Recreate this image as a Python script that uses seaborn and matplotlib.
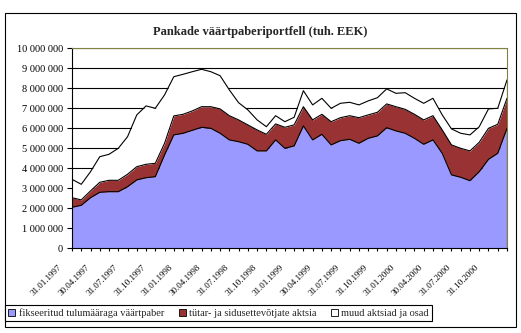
import numpy as np
import pandas as pd
import matplotlib
matplotlib.use("Agg")
import matplotlib.pyplot as plt
from matplotlib.patches import Patch, Rectangle
from matplotlib.transforms import ScaledTranslation
import seaborn as sns

# Month-end reporting dates, Jan 1997 - Dec 2000
dates = pd.date_range("1997-01-31", "2000-12-31", freq="ME")
date_labels = [d.strftime("%d.%m.%Y") for d in dates]

# Portfolio components, thousand EEK
fikseeritud = [2050000, 2150000, 2530000, 2800000, 2830000, 2830000, 3080000, 3420000,
               3530000, 3580000, 4670000, 5670000, 5750000, 5900000, 6050000, 6000000,
               5750000, 5420000, 5330000, 5200000, 4870000, 4870000, 5420000, 5000000,
               5120000, 6120000, 5420000, 5700000, 5170000, 5380000, 5450000, 5250000,
               5500000, 5620000, 6030000, 5870000, 5750000, 5500000, 5200000, 5420000,
               4750000, 3670000, 3550000, 3380000, 3830000, 4450000, 4750000, 6000000]
tytar = [480000, 270000, 340000, 500000, 570000, 570000, 620000, 660000,
         670000, 670000, 580000, 950000, 950000, 970000, 1030000, 1080000,
         1220000, 1210000, 1090000, 970000, 1050000, 830000, 800000, 1050000,
         1050000, 960000, 1000000, 1000000, 1160000, 1150000, 1180000, 1280000,
         1170000, 1180000, 1190000, 1210000, 1200000, 1200000, 1220000, 1210000,
         1170000, 1500000, 1450000, 1490000, 1470000, 1550000, 1450000, 1500000]
muud = [920000, 780000, 960000, 1280000, 1300000, 1600000, 1880000, 2590000,
        2920000, 2750000, 2420000, 1960000, 2000000, 1960000, 1870000, 1750000,
        1660000, 1290000, 860000, 750000, 500000, 380000, 410000, 280000,
        380000, 800000, 750000, 800000, 670000, 720000, 670000, 640000,
        700000, 730000, 750000, 670000, 830000, 800000, 830000, 870000,
        750000, 800000, 750000, 800000, 780000, 970000, 800000, 920000]

series_names = ["fikseeritud tulumääraga väärtpaber",
                "tütar- ja sidusettevõtjate aktsia",
                "muud aktsiad ja osad"]
colors = ["#9999FF", "#993333", "#FFFFFF"]
title = "Pankade väärtpaberiportfell (tuh. EEK)"

sns.set_style("white")
plt.rcParams["font.family"] = ["Liberation Serif", "DejaVu Serif"]

W, H = 521, 333
fig = plt.figure(figsize=(W / 100, H / 100), dpi=100)
ax = fig.add_axes([72 / W, 1 - 248.3 / H, 435 / W, 200 / H])

x = np.arange(len(dates))
ax.stackplot(x, fikseeritud, tytar, muud, colors=colors, linewidth=0, zorder=2)

# Outline on top of each stacked layer
cum = np.cumsum([fikseeritud, tytar, muud], axis=0)
outline = pd.DataFrame({"x": np.tile(x, 3), "y": cum.ravel(),
                        "layer": np.repeat(series_names, len(x))})
sns.lineplot(data=outline, x="x", y="y", units="layer", estimator=None,
             color="black", linewidth=0.8, ax=ax, zorder=3, legend=False)
ax.vlines(x[-1], 0, cum[-1, -1], color="black", linewidth=0.8, zorder=3)

ax.set_xlim(0, len(x) - 1)
ax.set_ylim(0, 10_000_000)
ax.set_xlabel("")
ax.set_ylabel("")

yt = np.arange(0, 10_000_001, 1_000_000)
ax.set_yticks(yt)
ax.set_yticklabels([f"{int(v):,}".replace(",", " ") for v in yt])
ax.yaxis.grid(True, color="black", linewidth=0.8, zorder=0)
ax.xaxis.grid(False)
ax.set_axisbelow(True)

ax.set_xticks(x)
ax.set_xticklabels([lab if i % 3 == 0 else "" for i, lab in enumerate(date_labels)])
ax.tick_params(axis="y", which="major", direction="out", length=3.6, width=0.8,
               pad=3, labelsize=7.5, colors="black", left=True)
ax.tick_params(axis="x", which="major", direction="out", length=2.2, width=0.8,
               pad=8.5, labelsize=6.5, colors="black", bottom=True)
shift = ScaledTranslation(-0.14, 0, fig.dpi_scale_trans)
for lab in ax.get_xticklabels():
    lab.set_rotation(45)
    lab.set_ha("right")
    lab.set_va("top")
    lab.set_rotation_mode("anchor")
    lab.set_transform(lab.get_transform() + shift)

for side in ["left", "bottom"]:
    ax.spines[side].set_color("black")
    ax.spines[side].set_linewidth(0.8)
for side in ["top", "right"]:
    ax.spines[side].set_color("#808040")
    ax.spines[side].set_linewidth(0.8)
for sp in ax.spines.values():
    sp.set_zorder(4)

fig.text(260 / W, 1 - 32 / H, title, ha="center", va="center",
         fontsize=9, fontweight="bold")

handles = [Patch(facecolor=c, edgecolor="black", linewidth=0.6) for c in colors]
leg = fig.legend(handles, series_names, loc="upper left",
                 bbox_to_anchor=(5 / W, 1 - 305 / H), ncol=3, fontsize=7.5,
                 frameon=True, fancybox=False, edgecolor="black", framealpha=1,
                 handlelength=0.7, handleheight=0.7, handletextpad=0.3,
                 columnspacing=1.4, borderpad=0.3, borderaxespad=0)
leg.get_frame().set_linewidth(0.8)

fig.add_artist(Rectangle((5 / W, 1 - 327 / H), 511 / W, 314 / H,
                         transform=fig.transFigure, fill=False,
                         edgecolor="black", linewidth=0.8))

fig.savefig("out.png", dpi=100)
